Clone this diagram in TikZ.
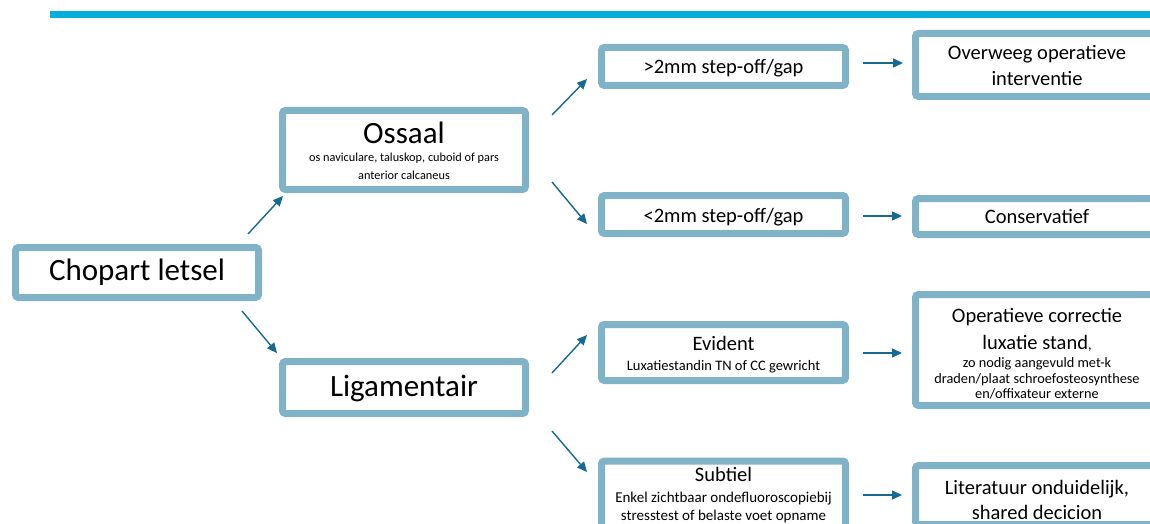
\documentclass[tikz,border=0pt]{standalone}
\usepackage{fontspec}
\setmainfont{Carlito}
\usetikzlibrary{arrows.meta}
\definecolor{barc}{RGB}{5,175,218}
\definecolor{boxline}{RGB}{128,179,200}
\definecolor{arrowc}{RGB}{20,106,145}
\tikzset{
  box/.style={draw=boxline, line width=7pt, rounded corners=3pt, fill=white,
    align=center, inner sep=0pt, outer sep=3.5pt, text=black},
  arr/.style={draw=arrowc, line width=1.4pt, -{Triangle[length=10pt,width=9pt]}},
  bigf/.style={font=\fontsize{31}{36}\selectfont},
  midf/.style={font=\fontsize{20.5}{26}\selectfont},
}
\begin{document}
\begin{tikzpicture}[x=1pt,y=-1pt]
\useasboundingbox (0,0) rectangle (1150,524);
\clip (0,0) rectangle (1150,524);
\fill[barc] (50,11) rectangle (1150,17.7);

% column 1
\node[box, bigf, minimum width=243pt, minimum height=50pt] (chop) at (137,272.5) {Chopart letsel};
% column 2
\node[box, font=\fontsize{12.3}{18}\selectfont, minimum width=243pt, minimum height=79pt] (oss) at (404,150)
  {\rule{0pt}{24pt}{\fontsize{31}{31}\selectfont Ossaal}\\ os naviculare, taluskop, cuboid of pars\\ anterior calcaneus};
\node[box, bigf, minimum width=243pt, minimum height=52pt, text height=25pt, text depth=6.5pt] (lig) at (404,387.5) {Ligamentair};
% column 3
\node[box, midf, minimum width=244pt, minimum height=38pt, text height=19pt, text depth=4pt] (gt) at (723.5,66.5) {>2mm step-off/gap};
\node[box, midf, minimum width=244pt, minimum height=38pt, text height=19pt, text depth=4pt] (lt) at (723.5,214.5) {<2mm step-off/gap};
\node[box, font=\fontsize{14.5}{20}\selectfont, minimum width=244pt, minimum height=56pt] (evi) at (723.5,352.5)
  {\rule{0pt}{18pt}{\fontsize{20.5}{20.5}\selectfont Evident}\\ Luxatiestandin TN of CC gewricht};
\node[box, font=\fontsize{15}{18.5}\selectfont, minimum width=244pt, minimum height=69pt, anchor=north] (sub) at (723.5,457.5)
  {{\fontsize{20.5}{20.5}\selectfont Subtiel}\\[2pt] Enkel zichtbaar ondefluoroscopiebij\\ stresstest of belaste voet opname};
% column 4
\node[box, midf, minimum width=243pt, minimum height=63pt] (over) at (1037,65) {Overweeg operatieve\\ interventie};
\node[box, midf, minimum width=243pt, minimum height=36pt] (cons) at (1037,216.5) {Conservatief};
\node[box, font=\fontsize{14.3}{15.5}\selectfont, minimum width=243pt, minimum height=111pt] (oper) at (1037,350)
  {\rule{0pt}{22pt}{\fontsize{20.5}{20.5}\selectfont Operatieve correctie}\\[8pt]
   {\fontsize{20.5}{20.5}\selectfont luxatie stand},\\[3pt]
   zo nodig aangevuld met-k\\ draden/plaat schroefosteosynthese\\ en/offixateur externe};
\node[box, font=\fontsize{20.5}{25}\selectfont, minimum width=243pt, minimum height=59pt] (lit) at (1037,495)
  {\rule{0pt}{25pt}Literatuur onduidelijk,\\ shared decicion};

% connector end points
\coordinate (a1s) at (248,234); \coordinate (a1e) at (283,196);
\coordinate (a2s) at (242,311); \coordinate (a2e) at (277,353);
\coordinate (a3s) at (552,115); \coordinate (a3e) at (587,79);
\coordinate (a4s) at (552,182); \coordinate (a4e) at (587,224);
\coordinate (a5s) at (552,373); \coordinate (a5e) at (587,335);
\coordinate (a6s) at (552,431); \coordinate (a6e) at (587,472);
\coordinate (h1s) at (863,63);  \coordinate (h1e) at (903,63);
\coordinate (h2s) at (863,216); \coordinate (h2e) at (902,216);
\coordinate (h3s) at (863,353); \coordinate (h3e) at (902,353);
\coordinate (h4s) at (863,495); \coordinate (h4e) at (902,495);

\draw[arr] (a1s) -- (a1e);
\draw[arr] (a2s) -- (a2e);
\draw[arr] (a3s) -- (a3e);
\draw[arr] (a4s) -- (a4e);
\draw[arr] (a5s) -- (a5e);
\draw[arr] (a6s) -- (a6e);
\draw[arr] (h1s) -- (h1e);
\draw[arr] (h2s) -- (h2e);
\draw[arr] (h3s) -- (h3e);
\draw[arr] (h4s) -- (h4e);
\end{tikzpicture}
\end{document}
